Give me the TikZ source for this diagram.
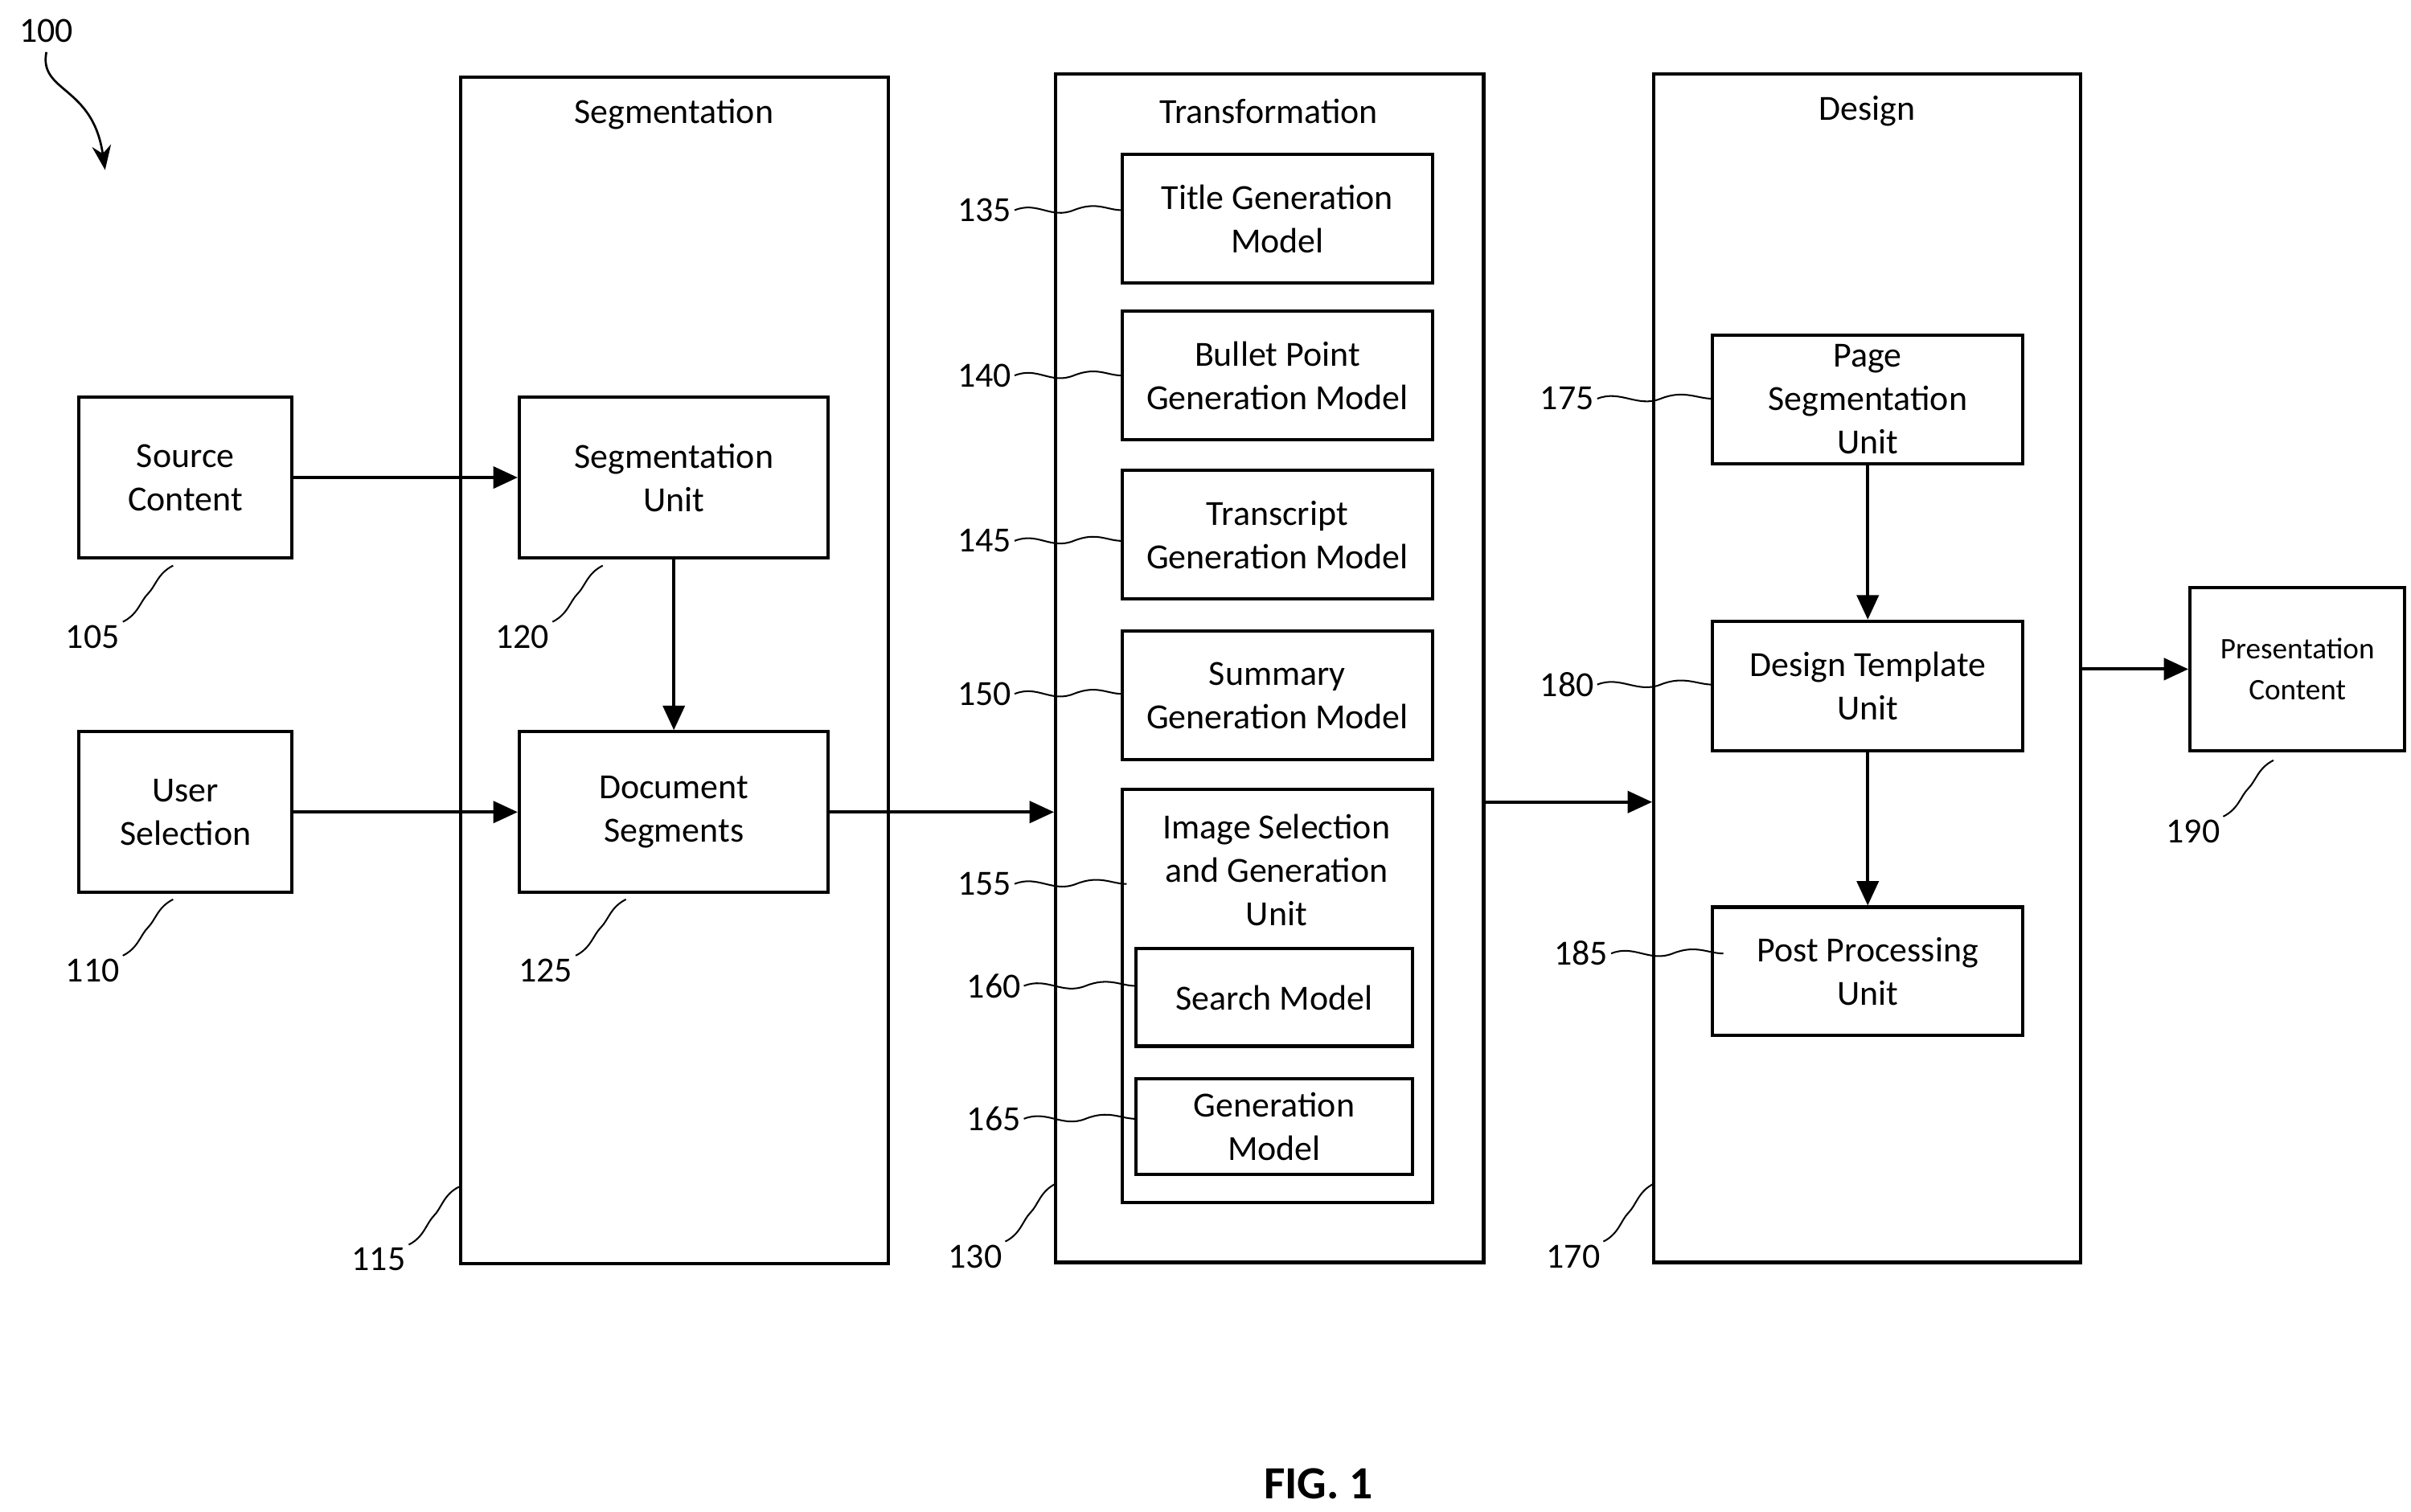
\documentclass[tikz,border=0pt]{standalone}
\usepackage{fontspec}
\setmainfont{Carlito}
\usetikzlibrary{arrows.meta,calc}
\begin{document}
\begin{tikzpicture}[x=0.02cm,y=-0.02cm,
  font=\fontsize{13}{16}\selectfont]

\tikzstyle{box}=[draw, line width=1.2pt, align=center, inner sep=0pt];
\tikzstyle{arr}=[line width=1.2pt, -{Triangle[length=9pt,width=8pt]}];
\tikzstyle{lead}=[semithick];
\tikzstyle{num}=[inner sep=1pt];

\useasboundingbox (0,0) rectangle (1560,978);

% containers
\node[box, minimum width=5.54cm, minimum height=15.36cm] (seg) at (436.5,434) {};
\node (segt) at (436,74) {Segmentation};
\node[box, minimum width=5.54cm, minimum height=15.38cm] (trans) at (821.5,432.5) {};
\node (transt) at (821,72) {Transformation};
\node[box, minimum width=5.52cm, minimum height=15.38cm] (des) at (1208,432.5) {};
\node (dest) at (1208,72) {Design};

% inputs
\node[box, minimum width=2.76cm, minimum height=2.08cm] (src) at (120,309) {Source\\Content};
\node[box, minimum width=2.76cm, minimum height=2.08cm] (user) at (120,525.5) {User\\Selection};

% segmentation
\node[box, minimum width=4cm, minimum height=2.08cm] (segunit) at (436,309) {Segmentation\\Unit};
\node[box, minimum width=4cm, minimum height=2.08cm] (docseg) at (436,525.5) {Document\\Segments};

% transformation
\node[box, minimum width=4.02cm, minimum height=1.66cm] (title) at (826.5,141.5) {Title Generation\\Model};
\node[box, minimum width=4.02cm, minimum height=1.66cm] (bullet) at (826.5,243) {Bullet Point\\Generation Model};
\node[box, minimum width=4.02cm, minimum height=1.66cm] (trscr) at (826.5,346) {Transcript\\Generation Model};
\node[box, minimum width=4.02cm, minimum height=1.66cm] (summ) at (826.5,450) {Summary\\Generation Model};
\node[box, minimum width=4.02cm, minimum height=5.34cm] (img) at (826.5,644.5) {};
\node[align=center] (imgt) at (826,563) {Image Selection\\and Generation\\Unit};
\node[box, minimum width=3.58cm, minimum height=1.26cm] (search) at (824.5,645.5) {Search Model};
\node[box, minimum width=3.58cm, minimum height=1.24cm] (genm) at (824.5,729) {Generation\\Model};

% design
\node[box, minimum width=4.02cm, minimum height=1.66cm] (page) at (1208.5,258.5) {Page\\Segmentation\\Unit};
\node[box, minimum width=4.02cm, minimum height=1.68cm] (dtu) at (1208.5,444) {Design Template\\Unit};
\node[box, minimum width=4.02cm, minimum height=1.66cm] (post) at (1208.5,628.5) {Post Processing\\Unit};

% output
\node[box, minimum width=2.78cm, minimum height=2.12cm, font=\fontsize{11}{15}\selectfont] (pres) at (1486.5,433) {Presentation\\Content};

% arrows
\draw[arr] (src) -- (segunit);
\draw[arr] (user) -- (docseg);
\draw[arr] (segunit) -- (docseg);
\draw[arr] (docseg.east) -- (docseg.east -| trans.west);
\coordinate (tout) at (960,519);
\draw[arr] (tout) -- (tout -| des.west);
\draw[arr] (page) -- (dtu);
\draw[arr] (dtu) -- (post);
\draw[arr] (des.east |- pres.west) -- (pres.west);

% reference numerals
\node (n100) at (30,20) {100};
\coordinate (c100) at (68,110);
\draw[thick, -{Stealth[length=9pt,width=7pt]}] (n100.south) .. controls (25,60) and (60,55) .. (c100);

\foreach \n/\x/\y/\tx/\ty in {105/60/412/112/366, 110/60/628/112/582,
  120/338/412/390/366, 125/353/628/405/582, 115/245/815/297/768,
  130/631/813/683/766, 170/1018/813/1070/766, 190/1419/538/1471/492}{
  \node[num] (n\n) at (\x,\y) {\n};
  \coordinate (c\n) at (\tx,\ty);
  \draw[lead] (n\n.north east) .. controls +(10,-5) and +(-5,5) .. ($(n\n.north east)!0.5!(c\n)$)
    .. controls +(5,-5) and +(-10,5) .. (c\n);
}

\foreach \n/\x/\y/\tx in {135/637/136/726, 140/637/243/726, 145/637/350/726,
  150/637/449/726, 155/637/572/729, 160/643/638/735, 165/643/724/735,
  175/1014/258/1108, 180/1014/443/1108, 185/1023/617/1115}{
  \node[num] (n\n) at (\x,\y) {\n};
  \coordinate (c\n) at (\tx,\y);
  \draw[lead] (n\n.east) .. controls +(15,-6) and +(-15,6) .. ($(n\n.east)!0.55!(c\n)$)
    .. controls +(15,-6) and +(-10,0) .. (c\n);
}

\node[font=\bfseries\fontsize{17}{20}\selectfont] (fig) at (853,960) {FIG. 1};
\end{tikzpicture}
\end{document}
